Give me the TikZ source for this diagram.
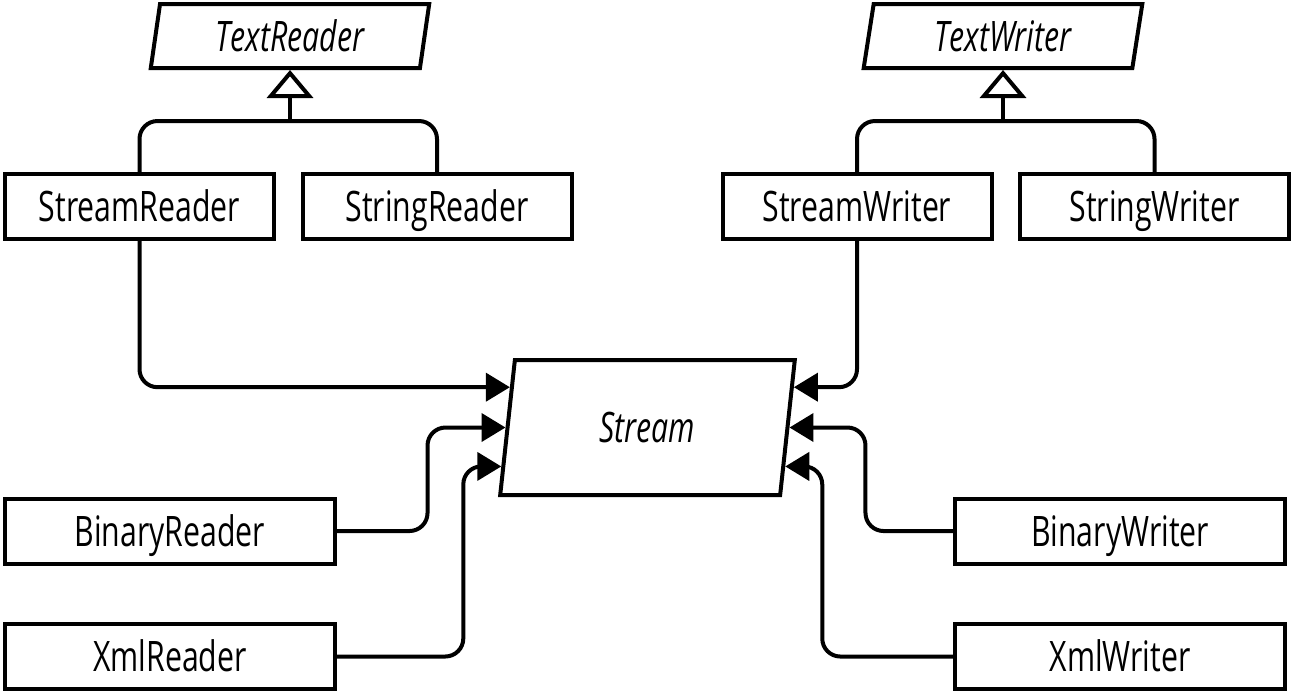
\documentclass[tikz,border=0pt]{standalone}
\usepackage{fontspec}
\setmainfont{Open Sans}[FakeStretch=0.72]
\usetikzlibrary{shapes.geometric, arrows.meta, positioning, calc}

\begin{document}
\begin{tikzpicture}[
    x=0.5pt, y=-0.5pt,
    line width=2pt,
    font=\fontsize{21}{25}\selectfont,
    cls/.style={rectangle, draw, minimum width=134.5pt, minimum height=32.5pt,
        inner sep=0pt, text height=15pt, text depth=0pt},
    wide/.style={cls, minimum width=165pt},
    abscls/.style={trapezium, trapezium left angle=80, trapezium right angle=100,
        trapezium stretches=true, draw, minimum width=140pt, minimum height=32pt,
        inner sep=0pt, text height=15pt, text depth=0pt,
        font=\fontsize{21}{25}\selectfont\itshape},
    uses/.style={-{Triangle[length=12pt, width=14pt]}, rounded corners=9pt},
    inherits/.style={-{Triangle[open, length=14pt, width=23pt]}}
]
    \useasboundingbox (0,0) rectangle (1294,693);
    % Nodes
    \node[abscls] (textreader) at (290,36) {TextReader};
    \node[abscls] (textwriter) at (1003,36) {TextWriter};
    \node[cls] (streamreader) at (139.5,206.5) {StreamReader};
    \node[cls] (stringreader) at (437,206.5) {StringReader};
    \node[cls] (streamwriter) at (857,206.5) {StreamWriter};
    \node[cls] (stringwriter) at (1154.5,206.5) {StringWriter};
    \node[abscls, minimum width=147.5pt, minimum height=67.5pt] (stream) at (647.5,427.5) {Stream};
    \node[wide] (binaryreader) at (170,531) {BinaryReader};
    \node[wide] (xmlreader) at (170,656.5) {XmlReader};
    \node[wide] (binarywriter) at (1120,531) {BinaryWriter};
    \node[wide] (xmlwriter) at (1120,656.5) {XmlWriter};
    % Joins and arrow ends
    \coordinate (rdjoin) at ($(textreader.south)+(0,51)$);
    \coordinate (wrjoin) at ($(textwriter.south)+(0,51)$);
    \coordinate (in1) at ($(stream.bottom left corner)!0.79!(stream.top left corner)$);
    \coordinate (in2) at ($(stream.bottom left corner)!0.5!(stream.top left corner)$);
    \coordinate (in3) at ($(stream.bottom left corner)!0.22!(stream.top left corner)$);
    \coordinate (out1) at ($(stream.bottom right corner)!0.79!(stream.top right corner)$);
    \coordinate (out2) at ($(stream.bottom right corner)!0.5!(stream.top right corner)$);
    \coordinate (out3) at ($(stream.bottom right corner)!0.22!(stream.top right corner)$);
    % Inheritance
    \draw[rounded corners=9pt] (streamreader.north) |- (rdjoin) -| (stringreader.north);
    \draw[inherits] (rdjoin) -- (textreader.south);
    \draw[rounded corners=9pt] (streamwriter.north) |- (wrjoin) -| (stringwriter.north);
    \draw[inherits] (wrjoin) -- (textwriter.south);
    % Connections to Stream
    \draw[uses] (streamreader.south) |- (in1);
    \draw[uses] (binaryreader.east) -| ($(in2)+(-78,0)$) -- (in2);
    \draw[uses] (xmlreader.east) -| ($(in3)+(-38,0)$) -- (in3);
    \draw[uses] (streamwriter.south) |- (out1);
    \draw[uses] (binarywriter.west) -| ($(out2)+(76,0)$) -- (out2);
    \draw[uses] (xmlwriter.west) -| ($(out3)+(37,0)$) -- (out3);
\end{tikzpicture}
\end{document}
